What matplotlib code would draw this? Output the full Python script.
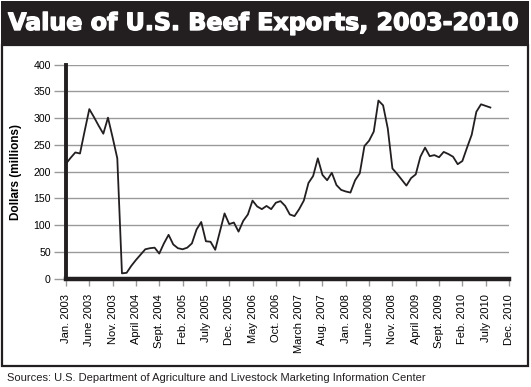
import numpy as np
import matplotlib
matplotlib.use("Agg")
import matplotlib.pyplot as plt
from matplotlib.patches import Rectangle
import matplotlib.patheffects as pe

plt.rcParams['font.family'] = ['Liberation Sans', 'DejaVu Sans']

# monthly export value, Jan. 2003 .. Aug. 2010 (millions of dollars)
values = [
    215, 226, 236, 234, 276, 317, 302, 286, 271, 301, 264, 225,
    10, 11, 24, 35, 45, 55, 57, 58, 47, 66, 82, 64,
    57, 55, 58, 66, 92, 106, 70, 69, 54, 88, 122, 102,
    105, 88, 108, 120, 146, 135, 130, 136, 130, 142, 145, 136,
    120, 117, 130, 146, 179, 192, 225, 194, 184, 198, 175, 166,
    163, 161, 184, 197, 248, 258, 275, 333, 324, 281, 206, 196,
    185, 174, 188, 195, 228, 245, 229, 231, 227, 237, 233, 228,
    214, 220, 245, 269, 312, 326, 323, 320,
]
tick_labels = [
    "Jan. 2003", "June 2003", "Nov. 2003", "April 2004", "Sept. 2004",
    "Feb. 2005", "July 2005", "Dec. 2005", "May 2006", "Oct. 2006",
    "March 2007", "Aug. 2007", "Jan. 2008", "June 2008", "Nov. 2008",
    "April 2009", "Sept. 2009", "Feb. 2010", "July 2010", "Dec. 2010",
]
y_ticks = [0, 50, 100, 150, 200, 250, 300, 350, 400]

W, H = 531, 387
fig = plt.figure(figsize=(W / 100, H / 100), dpi=100)


def fx(px):
    return px / W


def fy(py):
    return 1 - py / H


# title bar and frame
fig.patches.append(Rectangle((fx(1), fy(45)), fx(528), 44 / H, transform=fig.transFigure,
                             facecolor="#231f20", edgecolor="none", zorder=0))
fig.patches.append(Rectangle((fx(2), fy(366)), fx(526), 321 / H, transform=fig.transFigure,
                             facecolor="none", edgecolor="#231f20", lw=1.6, zorder=0))
fig.text(fx(263), fy(23), "Value of U.S. Beef Exports, 2003-2010", color="white",
         fontsize=17.1, fontweight="bold", ha="center", va="center",
         family=["DejaVu Sans"],
         path_effects=[pe.withStroke(linewidth=1.0, foreground="white")])

ax = fig.add_axes([fx(66), fy(278.7), fx(443), 214 / H])
x = np.arange(len(values))
ax.plot(x, values, color="#231f20", lw=1.3, zorder=3)

ax.set_xlim(0, 95)
ax.set_ylim(0, 400)
ax.set_xticks(np.arange(0, 96, 5))
ax.set_xticklabels(tick_labels, rotation=90, fontsize=8)
ax.set_yticks(y_ticks)
ax.set_yticklabels([str(v) for v in y_ticks], fontsize=7.6)
ax.grid(axis="y", color="#9a9a9a", lw=1.0, zorder=1)
ax.tick_params(axis="y", length=9, width=1.0, color="#9a9a9a", pad=2)
ax.tick_params(axis="x", length=5, width=1.0, color="#9a9a9a", pad=6)
for side in ("top", "right"):
    ax.spines[side].set_visible(False)
ax.spines["left"].set_linewidth(2.8)
ax.spines["bottom"].set_linewidth(3.2)
ax.spines["left"].set_color("#231f20")
ax.spines["bottom"].set_color("#231f20")
ax.set_ylabel("Dollars (millions)", fontsize=8.5, fontweight="bold", labelpad=8)

fig.text(fx(7), fy(378), "Sources: U.S. Department of Agriculture and Livestock Marketing Information Center",
         fontsize=8, ha="left", va="center", color="#231f20")

fig.savefig("out.png", dpi=100)
